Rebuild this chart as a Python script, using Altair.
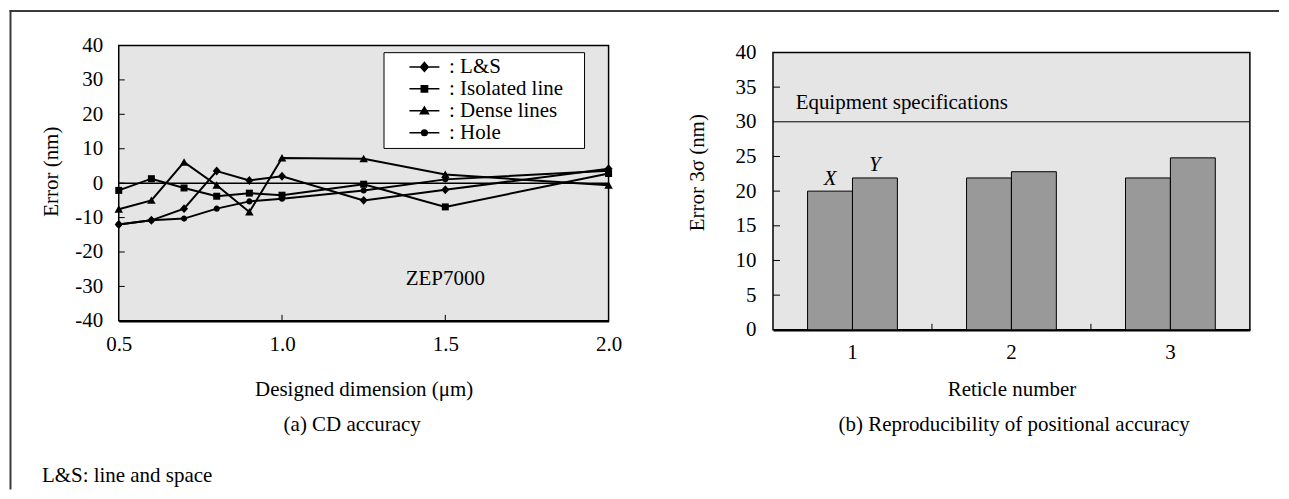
import altair as alt
import pandas as pd

FONT = "Liberation Serif"
FS = 21

# ---------- data: (a) CD accuracy ----------
dims = [0.5, 0.6, 0.7, 0.8, 0.9, 1.0, 1.25, 1.5, 2.0]
series_names = ["L&S", "Isolated line", "Dense lines", "Hole"]
ls_err = [-12.0, -10.8, -7.4, 3.5, 0.8, 2.0, -5.0, -1.9, 4.2]
iso_err = [-2.1, 1.3, -1.4, -3.8, -2.9, -3.5, -0.3, -6.9, 2.8]
dense_err = [-7.6, -5.0, 6.1, -0.6, -8.4, 7.3, 7.1, 2.5, -0.6]
hole_err = [-12.0, -10.8, -10.3, -7.4, -5.3, -4.5, -2.1, 1.1, 3.6]
y_labels_a = [-40, -30, -20, -10, 0, 10, 20, 30, 40]
x_labels_a = [0.5, 1.0, 1.5, 2.0]
y_ticks_a = [-30, -20, -10, 0, 10, 20, 30]
x_ticks_a = [1.0, 1.5]

# ---------- data: (b) reproducibility ----------
reticles = ["1", "2", "3"]
directions = ["X", "Y"]
x_3sigma = [20.0, 21.9, 21.9]
y_3sigma = [21.9, 22.8, 24.8]
spec_limit = 30
y_labels_b = [0, 5, 10, 15, 20, 25, 30, 35, 40]
y_ticks_b = [5, 10, 15, 20, 25, 35]
x_ticks_b = ["1", "2"]

# ---------- tables ----------
rows = []
for name, vals in zip(series_names, [ls_err, iso_err, dense_err, hole_err]):
    for d, v in zip(dims, vals):
        rows.append({"series": name, "dim": d, "err": v})
df_a = pd.DataFrame(rows)

brows = []
for i, r in enumerate(reticles):
    brows.append({"reticle": r, "dir": "X", "value": x_3sigma[i]})
    brows.append({"reticle": r, "dir": "Y", "value": y_3sigma[i]})
df_b = pd.DataFrame(brows)

one = pd.DataFrame({"a": [0]})

W1, H1 = 491, 276
W2, H2 = 478, 278

marker_paths = [
    "M0,-0.9L0.8,0L0,0.9L-0.8,0Z",
    "M-0.7,-0.7H0.7V0.7H-0.7Z",
    "M0,-0.8L0.85,0.7H-0.85Z",
    "M0.62,0A0.62,0.62,0,1,1,-0.62,0A0.62,0.62,0,1,1,0.62,0Z",
]
legend_paths = [
    "M-1,0L1,0M0,-0.3L0.26,0L0,0.3L-0.26,0Z",
    "M-1,0L1,0M-0.21,-0.21L0.21,-0.21L0.21,0.21L-0.21,0.21Z",
    "M-1,0L1,0M0,-0.25L0.27,0.2L-0.27,0.2Z",
    "M-1,0L1,0M0.19,0A0.19,0.19,0,1,1,-0.19,0A0.19,0.19,0,1,1,0.19,0Z",
]

xs_a = alt.Scale(domain=[0.5, 2.0], nice=False, zero=False)
ys_a = alt.Scale(domain=[-40, 40], nice=False)

X_AXIS_A = alt.Axis(values=x_labels_a, format=".1f", labelFlush=False,
                    labelPadding=30, labelBaseline="alphabetic", labelOverlap=False,
                    title="Designed dimension (μm)", titleY=75,
                    titleBaseline="alphabetic", domainColor="black", domainWidth=2.5)
Y_AXIS_A = alt.Axis(values=y_labels_a, labelExpr="datum.value + ''",
                    labelPadding=16, labelOverlap=False, title="Error (nm)", titleX=-61,
                    titleY=126, titleAlign="center", titleBaseline="alphabetic",
                    domain=False)


def XA(field="dim:Q"):
    return alt.X(field, scale=xs_a, axis=X_AXIS_A)


def YA(field="err:Q"):
    return alt.Y(field, scale=ys_a, axis=Y_AXIS_A)


FRAME = dict(color="#3a3a3a", strokeWidth=2, strokeCap="square")

# ---------- left panel ----------
frame_top = alt.Chart(one).mark_rule(**FRAME).encode(
    x=alt.value(-108.5), x2=alt.value(1162), y=alt.value(-34.5))
frame_left = alt.Chart(one).mark_rule(**FRAME).encode(
    x=alt.value(-108.5), y=alt.value(-34.5), y2=alt.value(444))

zero_line = alt.Chart(pd.DataFrame({"err": [0]})).mark_rule(
    color="black", strokeWidth=1.5).encode(y=YA())

lines = alt.Chart(df_a).mark_line(color="black", strokeWidth=2).encode(
    x=XA(), y=YA(), detail="series:N")

points = alt.Chart(df_a).mark_point(filled=True, color="black", opacity=1, size=100).encode(
    x=XA(), y=YA(),
    shape=alt.Shape("series:N", scale=alt.Scale(domain=series_names, range=marker_paths),
                    legend=None),
)

legend_layer = alt.Chart(df_a).mark_point(
    filled=False, fill="black", stroke="black", strokeWidth=1.5, opacity=0, size=900
).encode(
    x=XA(), y=YA(),
    shape=alt.Shape(
        "series:N",
        scale=alt.Scale(domain=series_names, range=legend_paths),
        legend=alt.Legend(
            title="M", titleOrient="right", titleColor="white", titleFontSize=10,
            titlePadding=8,
            orient="none", legendX=265.4, legendY=6.7, direction="vertical",
            fillColor="white", strokeColor="black", padding=4, symbolOffset=21,
            labelOffset=8.7, labelFont=FONT, labelFontSize=FS, labelColor="black",
            clipHeight=21.5, rowPadding=-2, symbolStrokeWidth=1.5,
            symbolOpacity=1, symbolSize=900, labelLimit=300,
            labelExpr="': ' + datum.label",
        ),
    ),
)

yt_a = alt.Chart(pd.DataFrame({"err": y_ticks_a})).mark_rule(color="black", strokeWidth=1).encode(
    y=YA(), x=alt.value(0), x2=alt.value(6))
xt_a = alt.Chart(pd.DataFrame({"dim": x_ticks_a})).mark_rule(color="black", strokeWidth=1).encode(
    x=XA(), y=alt.value(H1), y2=alt.value(H1 - 6))

zep = alt.Chart(pd.DataFrame({"dim": [1.5], "err": [-29.7], "t": ["ZEP7000"]})).mark_text(
    font=FONT, fontSize=FS, color="black", align="center", baseline="alphabetic").encode(
    x=XA(), y=YA(), text="t:N")

cap_a = alt.Chart(pd.DataFrame({"t": ["(a) CD accuracy"]})).mark_text(
    font=FONT, fontSize=FS, color="black", align="center", baseline="alphabetic").encode(
    x=alt.value(234), y=alt.value(386), text="t:N")
note = alt.Chart(pd.DataFrame({"t": ["L&S: line and space"]})).mark_text(
    font=FONT, fontSize=FS, color="black", align="left", baseline="alphabetic").encode(
    x=alt.value(-77), y=alt.value(438), text="t:N")

left = alt.layer(
    frame_top, frame_left, zero_line, lines, yt_a, xt_a, points, legend_layer, zep, cap_a, note
).resolve_scale(shape="independent").properties(width=W1, height=H1)

# ---------- right panel ----------
xs_b = alt.Scale(domain=reticles, paddingInner=0, paddingOuter=0)
xo_b = alt.Scale(domain=directions, paddingInner=0, paddingOuter=0.77)
ys_b = alt.Scale(domain=[0, 40], nice=False)

X_AXIS_B = alt.Axis(labelAngle=0, labelPadding=29, labelBaseline="alphabetic",
                    title="Reticle number", titleY=66, titleBaseline="alphabetic",
                    domainColor="black", domainWidth=2.5)
Y_AXIS_B = alt.Axis(values=y_labels_b, labelPadding=17, labelOverlap=False,
                    title="Error 3σ (nm)", titleX=-70, titleY=120,
                    titleAlign="center", titleBaseline="alphabetic", domain=False)


def XB(**kw):
    return alt.X("reticle:N", scale=xs_b, axis=X_AXIS_B, **kw)


def YB():
    return alt.Y("value:Q", scale=ys_b, axis=Y_AXIS_B)


bars = alt.Chart(df_b).mark_bar(color="#999999", stroke="black", strokeWidth=1).encode(
    x=XB(), xOffset=alt.XOffset("dir:N", scale=xo_b), y=YB())

xy_labels = alt.Chart(df_b[df_b["reticle"] == "1"]).mark_text(
    font=FONT, fontSize=FS, fontStyle="italic", color="black", align="center",
    baseline="alphabetic", dy=-6.5).encode(
    x=XB(), xOffset=alt.XOffset("dir:N", scale=xo_b), y=YB(), text="dir:N")

spec_rule = alt.Chart(pd.DataFrame({"value": [spec_limit]})).mark_rule(
    color="black", strokeWidth=1).encode(y=YB())
spec_text = alt.Chart(pd.DataFrame({"value": [spec_limit], "t": ["Equipment specifications"]})).mark_text(
    font=FONT, fontSize=FS, color="black", align="left", baseline="alphabetic", dy=-13).encode(
    x=alt.value(22.7), y=YB(), text="t:N")

yt_b = alt.Chart(pd.DataFrame({"value": y_ticks_b})).mark_rule(color="black", strokeWidth=1).encode(
    y=YB(), x=alt.value(0), x2=alt.value(7))
xt_b = alt.Chart(pd.DataFrame({"reticle": x_ticks_b})).mark_rule(color="black", strokeWidth=1).encode(
    x=XB(bandPosition=1), y=alt.value(H2), y2=alt.value(H2 - 6))

cap_b = alt.Chart(pd.DataFrame({"t": ["(b) Reproducibility of positional accuracy"]})).mark_text(
    font=FONT, fontSize=FS, color="black", align="center", baseline="alphabetic").encode(
    x=alt.value(241.7), y=alt.value(379.5), text="t:N")

right = alt.layer(
    bars, spec_rule, spec_text, xy_labels, yt_b, xt_b, cap_b
).properties(width=W2, height=H2)

spacer = alt.Chart(one).mark_point(opacity=0).encode(
    x=alt.value(0), y=alt.value(0)
).properties(width=W2, height=6.7,
             view=alt.ViewBackground(fill="transparent", stroke="transparent"))

right_col = alt.vconcat(spacer, right, spacing=0, bounds="flush")

chart = alt.hconcat(left, right_col, spacing=164.8, bounds="flush").properties(
    padding=0
).configure_axis(
    labelFont=FONT, titleFont=FONT, labelFontSize=FS, titleFontSize=FS,
    labelColor="black", titleColor="black", titleFontWeight="normal",
    grid=False, ticks=False, labelOverlap=False,
).configure_view(fill="#e5e5e5", stroke="black", strokeWidth=1.5)

chart.save("out.html", embed_options={"renderer": "svg", "actions": False})
